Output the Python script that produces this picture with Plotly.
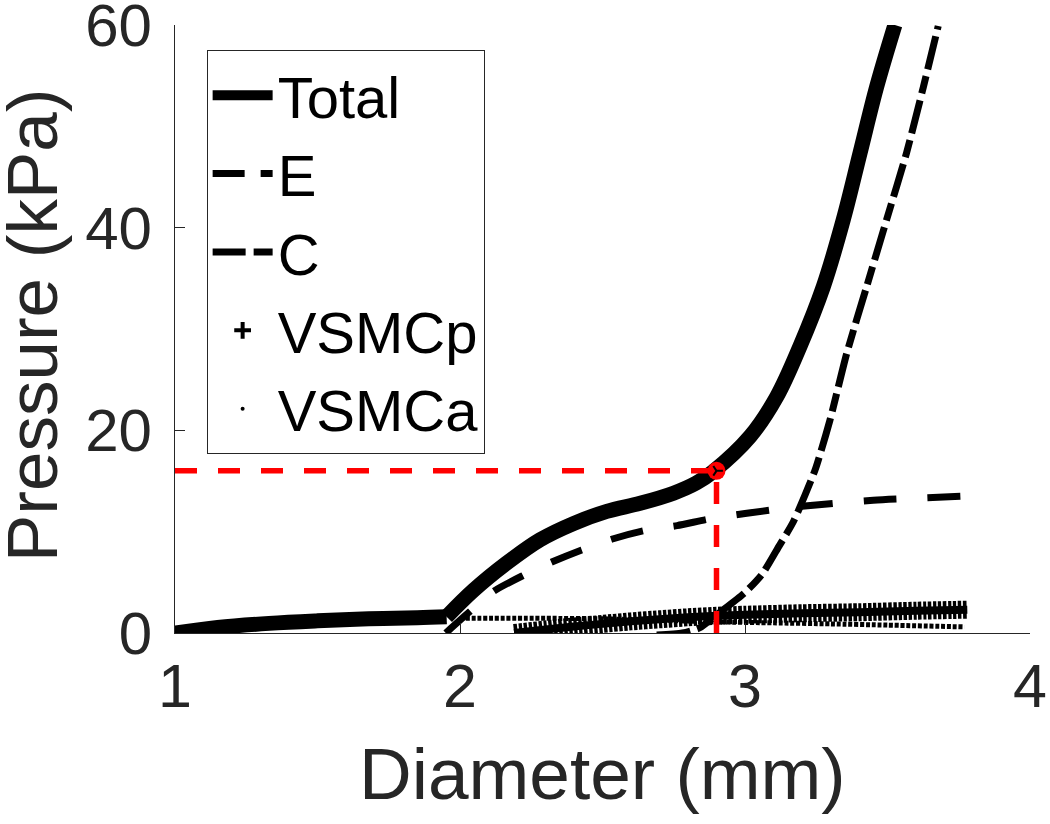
import plotly.graph_objects as go

# ---- data ----
total_x = [1.00, 1.15, 1.33, 1.50, 1.68, 1.85, 1.953, 2.047, 2.164, 2.281, 2.398, 2.515, 2.632, 2.749, 2.829, 2.887,
           3.018, 3.111, 3.193, 3.275, 3.345, 3.404, 3.462, 3.526]
total_y = [0.0, 0.55, 0.95, 1.2, 1.4, 1.5, 1.6, 4.2, 6.9, 9.2, 10.8, 12.0, 12.8, 13.8, 14.8, 15.9,
           19.4, 23.3, 28.3, 34.2, 40.8, 47.4, 53.9, 60.0]
total_kink = 6  # index of the corner where the active response begins

e_x = [2.69, 2.78, 2.84, 2.91, 3.00, 3.06, 3.12, 3.17, 3.246, 3.298, 3.357, 3.427, 3.497, 3.567, 3.626, 3.678]
e_y = [-0.2, 0.0, 0.5, 2.0, 4.0, 5.8, 8.6, 11.0, 16.1, 21.0, 27.6, 34.2, 40.8, 47.4, 53.9, 59.9]

c_x = [1.95, 2.03, 2.117, 2.216, 2.322, 2.427, 2.538, 2.646, 2.762, 2.875, 3.00, 3.20, 3.45, 3.77]
c_y = [0.0, 2.0, 4.1, 5.6, 7.0, 8.2, 9.3, 10.1, 10.6, 11.25, 11.8, 12.5, 13.1, 13.5]

vp_x = [2.19, 2.30, 2.40, 2.50, 2.60, 2.70, 2.80, 2.90, 3.00, 3.20, 3.40, 3.60, 3.78]
vp_y = [0.0, 0.35, 0.65, 0.9, 1.15, 1.35, 1.55, 1.7, 1.8, 1.95, 2.05, 2.2, 2.3]

va_x = [2.02, 2.30, 2.50, 2.70, 2.90, 3.10, 3.30, 3.50, 3.77]
va_y = [1.45, 1.45, 1.4, 1.25, 1.1, 1.0, 0.9, 0.78, 0.6]

op_d = [2.9]
op_p = [16.0]

x_ticks = [1, 2, 3, 4]
y_ticks = [0, 20, 40, 60]

FONT = "Liberation Sans, Arial, sans-serif"
GREY = "#262626"

fig = go.Figure()

# ---- drawn curves (no legend) ----
tot_line = dict(color="black", width=15, shape="spline", smoothing=1.0)
fig.add_trace(go.Scatter(x=total_x[:total_kink + 1], y=total_y[:total_kink + 1], mode="lines",
                         showlegend=False, line=tot_line))
fig.add_trace(go.Scatter(x=total_x[total_kink:], y=total_y[total_kink:], mode="lines",
                         showlegend=False, line=tot_line))
fig.add_trace(go.Scatter(x=e_x, y=e_y, mode="lines", showlegend=False,
                         line=dict(color="black", width=7, dash="34px,7px,18px,7px", shape="spline", smoothing=0.6)))
fig.add_trace(go.Scatter(x=c_x, y=c_y, mode="lines", showlegend=False,
                         line=dict(color="black", width=7, dash="33px,31px", shape="spline", smoothing=0.6)))
# VSMCp: dense thick plus markers -> band + perpendicular bars
fig.add_trace(go.Scatter(x=vp_x, y=vp_y, mode="lines", showlegend=False,
                         line=dict(color="black", width=8, shape="spline", smoothing=0.6)))
fig.add_trace(go.Scatter(x=vp_x, y=vp_y, mode="lines", showlegend=False,
                         line=dict(color="black", width=18, dash="3.4px,1.6px", shape="spline", smoothing=0.6)))
# VSMCa: dense dots
fig.add_trace(go.Scatter(x=va_x, y=va_y, mode="lines", showlegend=False,
                         line=dict(color="black", width=5, dash="4px,1.8px", shape="spline", smoothing=0.6)))

# ---- legend entries ----
fig.add_trace(go.Scatter(x=[None], y=[None], mode="lines", name="Total",
                         line=dict(color="black", width=15)))
fig.add_trace(go.Scatter(x=[None], y=[None], mode="lines", name="E",
                         line=dict(color="black", width=7, dash="32px,16px,12px,16px")))
fig.add_trace(go.Scatter(x=[None], y=[None], mode="lines", name="C",
                         line=dict(color="black", width=7, dash="33px,8px")))
fig.add_trace(go.Scatter(x=[None], y=[None], mode="markers", name="VSMCp",
                         marker=dict(symbol="cross-thin", size=12, color="black",
                                     line=dict(color="black", width=4))))
fig.add_trace(go.Scatter(x=[None], y=[None], mode="markers", name="VSMCa",
                         marker=dict(symbol="circle", size=4, color="black")))

# ---- operating point guides ----
fig.add_trace(go.Scatter(x=[x_ticks[0], op_d[0]], y=[op_p[0], op_p[0]], mode="lines", showlegend=False,
                         line=dict(color="#ff0000", width=5.5, dash="22px,21px")))
fig.add_trace(go.Scatter(x=[op_d[0], op_d[0]], y=[y_ticks[0], op_p[0]], mode="lines", showlegend=False,
                         line=dict(color="#ff0000", width=5.5, dash="22px,21px")))
fig.add_trace(go.Scatter(x=op_d, y=op_p, mode="markers", showlegend=False,
                         marker=dict(symbol="circle", size=18, color="#ff0000")))
fig.add_trace(go.Scatter(x=op_d, y=op_p, mode="markers", showlegend=False,
                         marker=dict(symbol="y-right", size=8, color="black",
                                     line=dict(color="black", width=2))))

fig.update_layout(
    width=1050, height=824,
    margin=dict(l=175, r=20, t=25, b=191, autoexpand=False),
    paper_bgcolor="white", plot_bgcolor="white",
    font=dict(family=FONT, color=GREY),
    legend=dict(x=0.037, y=0.959, xanchor="left", yanchor="top",
                bgcolor="white", bordercolor="#262626", borderwidth=1,
                font=dict(family=FONT, size=58, color="black"),
                itemwidth=60, tracegroupgap=0),
    annotations=[
        dict(text="Diameter (mm)", xref="paper", yref="paper", x=0.5, y=-0.231,
             xanchor="center", yanchor="middle", showarrow=False,
             font=dict(family=FONT, size=73, color=GREY)),
        dict(text="Pressure (kPa)", xref="paper", yref="paper", x=-0.166, y=0.505,
             xanchor="center", yanchor="middle", showarrow=False, textangle=-90,
             font=dict(family=FONT, size=71, color=GREY)),
    ],
)
fig.update_xaxes(range=[1, 4], tickvals=x_ticks, ticktext=[str(v) for v in x_ticks],
                 showgrid=False, zeroline=False, showline=True, linecolor=GREY, linewidth=1,
                 ticks="inside", ticklen=10, tickcolor=GREY, tickfont=dict(size=61, color=GREY),
                 automargin=False, ticklabeloverflow="allow")
fig.update_yaxes(range=[0, 60], tickvals=y_ticks, ticktext=[str(v) for v in y_ticks],
                 showgrid=False, zeroline=False, showline=True, linecolor=GREY, linewidth=1,
                 ticks="inside", ticklen=10, tickcolor=GREY, tickfont=dict(size=60, color=GREY),
                 ticklabelstandoff=10,
                 automargin=False, ticklabeloverflow="allow")

fig.write_html("out.html", config={"displayModeBar": False},
               post_script="document.body.style.margin='0px';")
